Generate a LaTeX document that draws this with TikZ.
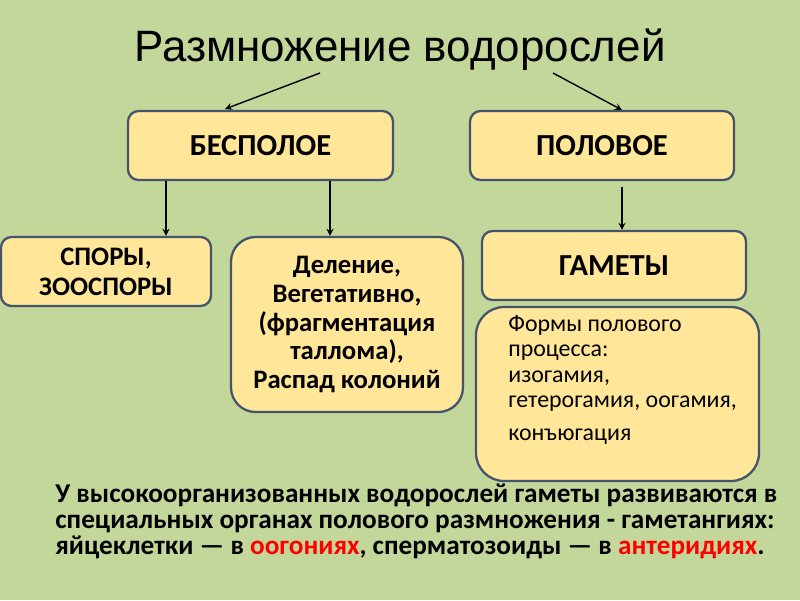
\documentclass[tikz,border=0pt]{standalone}
\usepackage{fontspec}
\setmainfont{Carlito}
\newfontfamily\arialf{Liberation Sans}
\definecolor{bg}{RGB}{196,215,155}
\definecolor{boxf}{RGB}{255,230,153}
\definecolor{boxd}{RGB}{68,84,106}
\definecolor{redt}{RGB}{255,0,0}
\tikzset{box/.style={draw=boxd,line width=1.3pt,fill=boxf,rounded corners=6pt,align=center,font=\bfseries\fontsize{17.4}{20}\selectfont},
arr/.style={-stealth,line width=0.8pt}}
\begin{document}
\begin{tikzpicture}[x=0.02cm,y=-0.02cm]
\fill[bg] (0,0) rectangle (800,600);
\useasboundingbox (0,0) rectangle (800,600);
\node (t) at (400,50) {\arialf\fontsize{25}{28}\selectfont Размножение водорослей};
\node[box,minimum width=265*0.02cm,minimum height=69*0.02cm] (b) at (260.5,145.5) {БЕСПОЛОЕ};
\node[box,minimum width=264*0.02cm,minimum height=69*0.02cm] (p) at (602,145.5) {ПОЛОВОЕ};
\node[box,minimum width=210*0.02cm,minimum height=69*0.02cm,font=\bfseries\fontsize{15.2}{17}\selectfont] (s) at (106,271.5) {СПОРЫ,\\ЗООСПОРЫ};
\node[box,rounded corners=14pt,minimum width=232*0.02cm,minimum height=175*0.02cm,font=\bfseries\fontsize{15.2}{16.4}\selectfont] (d) at (347,324.5) {Деление,\\Вегетативно,\\(фрагментация\\таллома),\\Распад колоний};
\node[box,minimum width=264*0.02cm,minimum height=69*0.02cm] (g) at (614,265.5) {ГАМЕТЫ};
\node[box,rounded corners=16pt,minimum width=283*0.02cm,minimum height=174*0.02cm] (f) at (617.5,394) {};
\node[anchor=north west,align=left,inner sep=0pt,font=\fontsize{13.6}{14.5}\selectfont] (ft) at (508,315) {Формы полового\\процесса:\\изогамия,\\гетерогамия, оогамия,\\[4pt]конъюгация};
\coordinate (t1) at (320,73); \coordinate (t2) at (553,73);
\draw[arr] (t1) -- (225,109);
\draw[arr] (t2) -- (622,110);
\draw[arr] (b.south -| 166,0) -- (s.north -| 166,0);
\draw[arr] (b.south -| 330,0) -- (d.north -| 330,0);
\draw[arr] (622,187) -- (g.north -| 622,0);
\node[anchor=north west,align=left,inner sep=0pt,font=\bfseries\fontsize{15.5}{14.8}\selectfont] (bt) at (55,484) {У высокоорганизованных водорослей гаметы развиваются в\\специальных органах полового размножения - гаметангиях:\\яйцеклетки — в \textcolor{redt}{оогониях}, сперматозоиды — в \textcolor{redt}{антеридиях}.};
\end{tikzpicture}
\end{document}
